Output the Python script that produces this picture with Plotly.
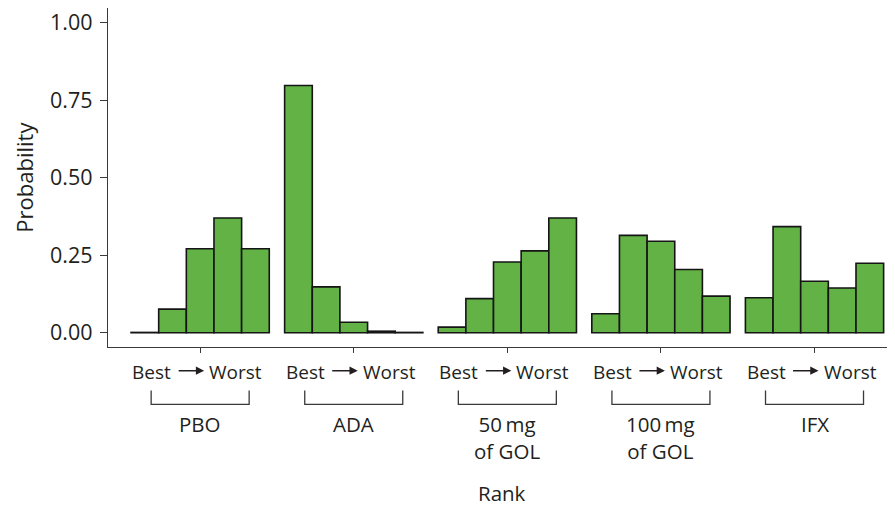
import plotly.graph_objects as go

# ---- data ----
treatments = ["PBO", "ADA", "50\u2009mg<br>of GOL", "100\u2009mg<br>of GOL", "IFX"]
rank_names = ["Rank 1", "Rank 2", "Rank 3", "Rank 4", "Rank 5"]
pbo = [0.001, 0.076, 0.271, 0.370, 0.271]
ada = [0.797, 0.148, 0.034, 0.005, 0.001]
gol50 = [0.018, 0.110, 0.228, 0.264, 0.370]
gol100 = [0.061, 0.314, 0.295, 0.204, 0.118]
ifx = [0.113, 0.342, 0.166, 0.144, 0.224]
y_ticks = [0, 0.25, 0.5, 0.75, 1.0]
y_ticktext = ["0.00", "0.25", "0.50", "0.75", "1.00"]

series = [pbo, ada, gol50, gol100, ifx]
group_pos = [1, 2, 3, 4, 5]

FONT = "Open Sans"
TXT = "#231f20"
AX = "#3a3a3a"
GREEN = "#63b246"

fig = go.Figure()
for r, name in enumerate(rank_names):
    fig.add_trace(go.Bar(
        x=group_pos,
        y=[s[r] for s in series],
        name=name,
        marker=dict(color=GREEN, line=dict(color="#151515", width=1.6)),
        showlegend=False,
    ))

# page has an 8px body margin; figure is sized to fill the remaining window
W, H = 887, 498
L, R, T, B = 100, 0, 0, 159
x_range = [0.4, 5.524]
y_range = [-0.046, 1.047]
px_per_x = (W - L - R) / (x_range[1] - x_range[0])
plot_h = H - T - B
AXIS_Y = 347  # page y of the x-axis line (paper y = 0)

annotations = []
shapes = []
for g, label in zip(group_pos, treatments):
    # Best -> Worst
    annotations.append(dict(x=g, xref="x", y=0, yref="paper", text="Best",
                            showarrow=False, xanchor="right", yanchor="middle",
                            xshift=-27, yshift=-(372 - AXIS_Y),
                            font=dict(family=FONT, size=19, color=TXT)))
    annotations.append(dict(x=g, xref="x", y=0, yref="paper", text="Worst",
                            showarrow=False, xanchor="left", yanchor="middle",
                            xshift=7, yshift=-(372 - AXIS_Y),
                            font=dict(family=FONT, size=19, color=TXT)))
    annotations.append(dict(x=g + 4 / px_per_x, xref="x",
                            y=-(370.7 - AXIS_Y) / plot_h, yref="paper", text="",
                            showarrow=True, ax=-27, ay=0,
                            arrowhead=2, arrowsize=1.1, arrowwidth=1.5,
                            arrowcolor=TXT))
    # bracket
    x0 = g - 49 / px_per_x
    x1 = g + 49 / px_per_x
    yt = -(390.5 - AXIS_Y) / plot_h
    yb = -(404.3 - AXIS_Y) / plot_h
    shapes.append(dict(type="path", xref="x", yref="paper",
                       path=f"M {x0},{yt} L {x0},{yb} L {x1},{yb} L {x1},{yt}",
                       line=dict(color=AX, width=1.3)))
    # treatment label
    annotations.append(dict(x=g, xref="x", y=0, yref="paper", text=label,
                            showarrow=False, xanchor="center", yanchor="top",
                            yshift=-(409 - AXIS_Y), borderpad=0,
                            font=dict(family=FONT, size=20.5, color=TXT)))

annotations.append(dict(x=0.5, xref="paper", y=0, yref="paper", text="Rank",
                        showarrow=False, xanchor="center", yanchor="middle",
                        yshift=-(492.5 - AXIS_Y), borderpad=0,
                        font=dict(family=FONT, size=20.5, color=TXT)))
annotations.append(dict(x=0, xref="paper", y=0.5, yref="y", text="Probability",
                        showarrow=False, xanchor="center", yanchor="middle",
                        xshift=24 - 108, textangle=-90,
                        font=dict(family=FONT, size=22, color=TXT)))

fig.update_layout(
    width=W, height=H,
    margin=dict(l=L, r=R, t=T, b=B, pad=0),
    paper_bgcolor="white", plot_bgcolor="white",
    barmode="group", bargap=0.1, bargroupgap=0,
    annotations=annotations, shapes=shapes,
    xaxis=dict(range=x_range, tickvals=group_pos, showticklabels=False,
               ticks="outside", ticklen=5, tickwidth=1.3, tickcolor=AX,
               showline=True, linecolor=AX, linewidth=1.3,
               showgrid=False, zeroline=False, fixedrange=True),
    yaxis=dict(range=y_range, tickvals=y_ticks, ticktext=y_ticktext,
               ticks="outside", ticklen=7, tickwidth=1.3, tickcolor=AX,
               ticklabelstandoff=3, ticklabeloverflow="allow",
               showline=True, linecolor=AX, linewidth=1.3,
               showgrid=False, zeroline=False, fixedrange=True,
               tickfont=dict(family=FONT, size=21.5, color=TXT)),
)

fig.write_html("out.html")
